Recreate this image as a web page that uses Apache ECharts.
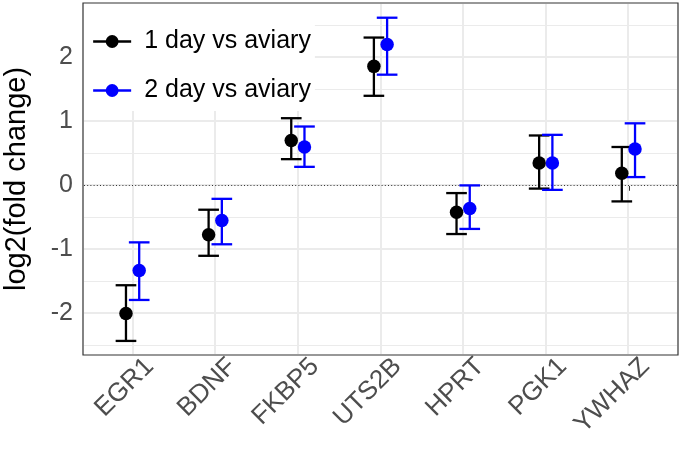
<!DOCTYPE html>
<html><head><meta charset="utf-8">
<script src="https://cdn.jsdelivr.net/npm/echarts@6/dist/echarts.min.js"></script>
<style>html,body{margin:0;padding:0;background:#fff}#c{width:681px;height:452px}</style>
</head><body><div id="c"></div>
<script>
const categories = ['EGR1','BDNF','FKBP5','UTS2B','HPRT','PGK1','YWHAZ'];
const seriesNames = ['1 day vs aviary','2 day vs aviary'];
const day1Mean = [-2.01,-0.78,0.69,1.85,-0.43,0.34,0.18];
const day1Low  = [-2.44,-1.11,0.40,1.39,-0.77,-0.06,-0.26];
const day1High = [-1.57,-0.39,1.04,2.30,-0.13,0.77,0.59];
const day2Mean = [-1.34,-0.56,0.59,2.19,-0.37,0.34,0.56];
const day2Low  = [-1.80,-0.93,0.28,1.72,-0.69,-0.08,0.12];
const day2High = [-0.90,-0.22,0.91,2.61,-0.01,0.78,0.96];
const yTicks = [-2,-1,0,1,2];
const yMinor = [-2.5,-1.5,-0.5,0.5,1.5,2.5];
const catIdx = categories.map((c,i)=>i);

const colors = ['#000000','#0000FF'];
const dodge = [-0.08, 0.08];
const capWidth = 0.25;
const FONT = '"Liberation Sans", Arial, Helvetica, sans-serif';

const chart = echarts.init(document.getElementById('c'), null, {renderer:'canvas'});

function hGrid(width){
  return function(params, api){
    const cs = params.coordSys;
    const y = Math.round(api.coord([0, api.value(1)])[1]) + (width%2 ? 0.5 : 0);
    return {type:'line', shape:{x1:cs.x+1, y1:y, x2:cs.x+cs.width-1, y2:y},
      style:{stroke:'#EBEBEB', lineWidth:width}};
  };
}
function vGrid(params, api){
  const cs = params.coordSys;
  const x = Math.round(api.coord([api.value(0), 0])[0]);
  return {type:'line', shape:{x1:x, y1:cs.y+1, x2:x, y2:cs.y+cs.height-1},
    style:{stroke:'#EBEBEB', lineWidth:2}};
}
function errBar(k){
  return function(params, api){
    const x = api.value(0) + dodge[k];
    const lo = api.coord([x, api.value(1)]);
    const hi = api.coord([x, api.value(2)]);
    const hw = api.size([capWidth, 0])[0] / 2;
    const st = {stroke: colors[k], lineWidth: 2.3};
    return {type:'group', children:[
      {type:'line', shape:{x1:lo[0], y1:lo[1], x2:hi[0], y2:hi[1]}, style:st},
      {type:'line', shape:{x1:lo[0]-hw, y1:lo[1], x2:lo[0]+hw, y2:lo[1]}, style:st},
      {type:'line', shape:{x1:hi[0]-hw, y1:hi[1], x2:hi[0]+hw, y2:hi[1]}, style:st}
    ]};
  };
}

const means = [day1Mean, day2Mean], lows = [day1Low, day2Low], highs = [day1High, day2High];

const series = [
  {type:'custom', name:'gridMinor', silent:true, z:1, renderItem:hGrid(1), data: yMinor.map(v=>[0,v]), encode:{x:0,y:1}},
  {type:'custom', name:'gridMajor', silent:true, z:1, renderItem:hGrid(2), data: yTicks.map(v=>[0,v]), encode:{x:0,y:1}},
  {type:'custom', name:'gridV', silent:true, z:1, renderItem:vGrid, data: catIdx.map(i=>[i,0]), encode:{x:0,y:1}},
  {type:'custom', name:'zero', silent:true, z:2, data:[[0,0]], encode:{x:0,y:1},
    renderItem:function(params, api){
      const cs = params.coordSys;
      const y = Math.round(api.coord([0, api.value(1)])[1]) + 0.5;
      return {type:'line', shape:{x1:cs.x+1, y1:y, x2:cs.x+cs.width-1, y2:y},
        style:{stroke:'#333333', lineWidth:1, lineDash:[1,2.2]}};
    }},
];
[0,1].forEach(k=>{
  series.push({type:'custom', name:'eb'+k, silent:true, z:3,
    renderItem: errBar(k),
    data: catIdx.map(i=>[i, lows[k][i], highs[k][i]]),
    encode:{x:0, y:[1,2]}});
});
[0,1].forEach(k=>{
  series.push({type:'line', name: seriesNames[k], z:4+k,
    data: catIdx.map(i=>[i + dodge[k], means[k][i]]),
    symbol:'circle', symbolSize:13.5, showSymbol:true,
    itemStyle:{color: colors[k]},
    lineStyle:{width:0, opacity:0}, emphasis:{disabled:true}, silent:true});
});

chart.setOption({
  animation:false,
  backgroundColor:'#ffffff',
  grid:{left:83, right:3, top:3, bottom:97, show:true, borderColor:'#333333', borderWidth:1.2,
    backgroundColor:'transparent', containLabel:false, outerBoundsMode:'none'},
  legend:{
    data: seriesNames, orient:'vertical', left:84, top:4,
    backgroundColor:'#ffffff', padding:[24,4,7,8],
    itemWidth:38, itemHeight:16, itemGap:22,
    lineStyle:{width:2.3, opacity:1},
    textStyle:{fontFamily:FONT, fontSize:25, color:'#000', padding:[0,0,0,8], lineHeight:27},
    selectedMode:false
  },
  xAxis:{
    type:'value', min:-0.6, max:6.6,
    axisLine:{show:false},
    splitLine:{show:false},
    axisTick:{show:true, customValues:catIdx, length:6, lineStyle:{color:'#333333', width:2}},
    axisLabel:{customValues:catIdx, formatter:v=>categories[Math.round(v)], rotate:45,
      align:'right', verticalAlign:'top', padding:[0,-11,0,0],
      fontFamily:FONT, fontSize:26, color:'#4D4D4D', margin:6}
  },
  yAxis:{
    type:'value', min:-2.66, max:2.84,
    name:'log2(fold change)', nameLocation:'middle', nameRotate:90, nameGap:52,
    nameTextStyle:{fontFamily:FONT, fontSize:29, color:'#000'},
    axisLine:{show:false},
    splitLine:{show:false},
    axisTick:{show:true, customValues:yTicks, length:6, lineStyle:{color:'#333333', width:2}},
    axisLabel:{customValues:yTicks, fontFamily:FONT, fontSize:25, color:'#4D4D4D', margin:10}
  },
  series: series
});
</script></body></html>
